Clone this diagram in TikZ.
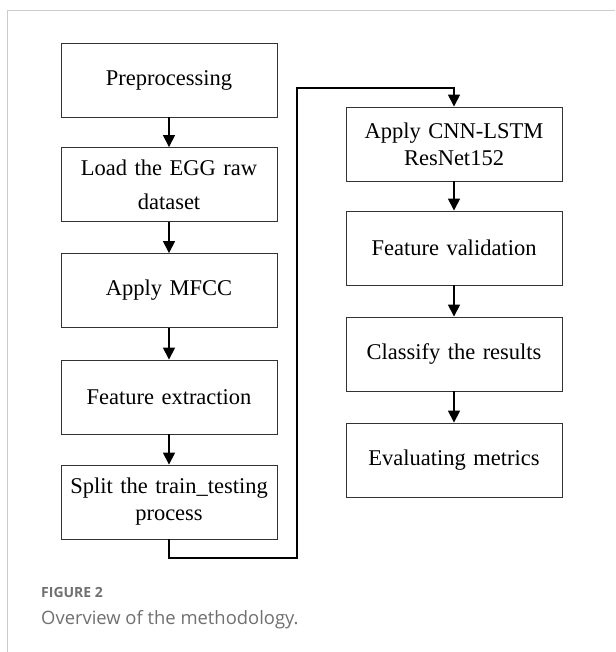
\documentclass[tikz,border=0pt]{standalone}
\usepackage{fontspec}
\setmainfont{Liberation Serif}
\newfontfamily\capfont{Open Sans}
\usetikzlibrary{arrows.meta}
\definecolor{framegray}{HTML}{CCCCCC}
\definecolor{capgray}{HTML}{707070}
\definecolor{boxline}{HTML}{333333}
\begin{document}
\begin{tikzpicture}[x=1pt,y=-1pt,
  box/.style={draw=boxline,line width=0.9pt,minimum width=216pt,minimum height=74pt,inner sep=0pt,
    align=center,font=\fontsize{22.5}{27}\selectfont,text width=210pt},
  conn/.style={line width=1.6pt,-{Triangle[length=12pt,width=12pt]}},
  capt/.style={anchor=base west,inner sep=0pt,text=capgray}]
\useasboundingbox (0,0) rectangle (615,652);
\fill[white] (0,0) rectangle (615,652);
\draw[framegray,line width=1.4pt] (7.5,652) -- (7.5,10.5) -- (615,10.5);
% left column
\node[box] (n1) at (169,80) {Preprocessing};
\node[box,font=\fontsize{22.5}{34}\selectfont] (n2) at (169,184.5) {Load the EGG raw\\dataset};
\node[box] (n3) at (169,290.5) {Apply MFCC};
\node[box] (n4) at (169,397) {Feature extraction};
\node[box] (n5) at (169,502) {Split the train\_testing\\process};
% right column
\node[box] (n6) at (454,144) {Apply CNN-LSTM\\ResNet152};
\node[box] (n7) at (454,248) {Feature validation};
\node[box] (n8) at (454,354) {Classify the results};
\node[box] (n9) at (454,460) {Evaluating metrics};
% connectors
\draw[conn] (n1) -- (n2);
\draw[conn] (n2) -- (n3);
\draw[conn] (n3) -- (n4);
\draw[conn] (n4) -- (n5);
\coordinate (c1) at (297,558);
\coordinate (c2) at (297,88);
\draw[conn] (n5.south) |- (c1) -- (c2) -| (n6.north);
\draw[conn] (n6) -- (n7);
\draw[conn] (n7) -- (n8);
\draw[conn] (n8) -- (n9);
% caption
\node[capt,font=\capfont\bfseries\fontsize{14}{16}\selectfont] (cap1) at (41,597) {FIGURE 2};
\node[capt,font=\capfont\fontsize{18.4}{20}\selectfont] (cap2) at (41,624) {Overview of the methodology.};
\end{tikzpicture}
\end{document}
